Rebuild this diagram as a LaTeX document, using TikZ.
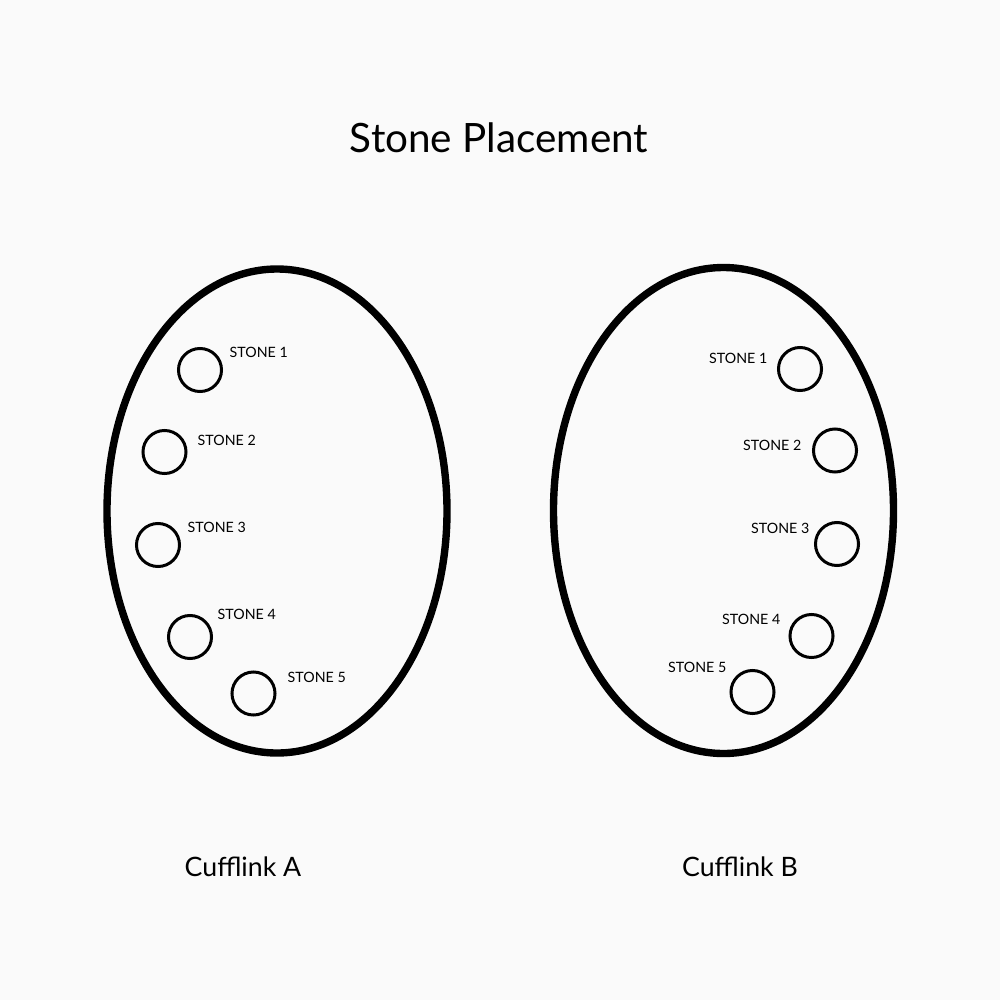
\documentclass[tikz,border=0pt]{standalone}
\usepackage{fontspec}
\setmainfont{Lato}
\definecolor{bg}{HTML}{FAFAFA}
\tikzset{
  stone/.style={circle,draw=black,line width=0.85pt,minimum size=0.43cm,inner sep=0pt},
  oval/.style={draw=black,line width=2.1pt},
  lblL/.style={anchor=base west,inner sep=0pt,font=\fontsize{4.05}{5}\selectfont},
  lblR/.style={anchor=base east,inner sep=0pt,font=\fontsize{4.05}{5}\selectfont},
  title/.style={anchor=base,inner sep=0pt,font=\fontsize{11.5}{14}\selectfont},
  caption/.style={anchor=base,inner sep=0pt,font=\fontsize{7.6}{10}\selectfont}
}
\begin{document}
\begin{tikzpicture}[x=0.01cm,y=-0.01cm]
\fill[bg] (0,0) rectangle (1000,1000);
\useasboundingbox (0,0) rectangle (1000,1000);
\node[title] (t) at (499,152) {Stone Placement};
% Cufflink A
\draw[oval] (277,511) ellipse [x radius=170, y radius=242];
\node[stone] (a1) at (200,370) {};
\node[stone] (a2) at (164.5,452) {};
\node[stone] (a3) at (158,545) {};
\node[stone] (a4) at (190,637) {};
\node[stone] (a5) at (253.5,693.5) {};
\node[lblL] (la1) at (229,357) {STONE 1};
\node[lblL] (la2) at (197,445) {STONE 2};
\node[lblL] (la3) at (187,532) {STONE 3};
\node[lblL] (la4) at (217,619) {STONE 4};
\node[lblL] (la5) at (287,682) {STONE 5};
\node[caption] (ca) at (243,876) {Cufflink A};
% Cufflink B
\draw[oval] (723.5,510.5) ellipse [x radius=170, y radius=243];
\node[stone] (b1) at (800,369) {};
\node[stone] (b2) at (835,450.5) {};
\node[stone] (b3) at (837,544) {};
\node[stone] (b4) at (811.5,636) {};
\node[stone] (b5) at (752.5,692) {};
\node[lblR] (lb1) at (768,363) {STONE 1};
\node[lblR] (lb2) at (802,450) {STONE 2};
\node[lblR] (lb3) at (810,533) {STONE 3};
\node[lblR] (lb4) at (781,624) {STONE 4};
\node[lblR] (lb5) at (727,672) {STONE 5};
\node[caption] (cb) at (740,876) {Cufflink B};
\end{tikzpicture}
\end{document}
